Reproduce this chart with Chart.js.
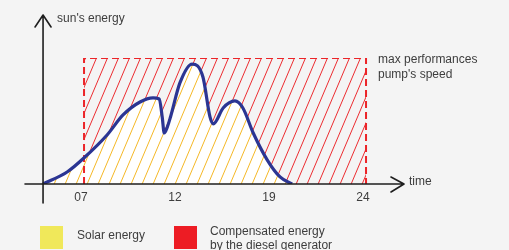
<!DOCTYPE html>
<html>
<head>
<meta charset="utf-8">
<script src="https://cdn.jsdelivr.net/npm/chart.js@4.4.1/dist/chart.umd.min.js"></script>
<style>
  html, body { margin: 0; padding: 0; background: #f4f4f4; }
  .wrap { position: relative; width: 509px; height: 250px; overflow: hidden; font-family: "Liberation Sans", Arial, sans-serif; color: #3d3d3d; }
  canvas { position: absolute; left: 0; top: 0; }
  .key { position: absolute; width: 23px; height: 23px; }
  .lbl { position: absolute; font-size: 12px; line-height: 14px; white-space: nowrap; }
</style>
</head>
<body>
<div class="wrap">
  <canvas id="chart"></canvas>
  <div class="key" style="left:40px; top:226px; background:#f0e85a;"></div>
  <div class="lbl" style="left:77px; top:228px;">Solar energy</div>
  <div class="key" style="left:174px; top:226px; background:#ed1c24;"></div>
  <div class="lbl" style="left:210px; top:224px;">Compensated energy<br>by the diesel generator</div>
</div>
<script>
// x positions are in "slot" units: tick labels sit at 1..4, evenly spaced like the original drawing
const tickLabels = ['07', '12', '19', '24'];
const tickPos = [1, 2, 3, 4];

// sun's energy curve
const sunX = [0.564, 0.82, 1.01, 1.245, 1.415, 1.596, 1.734, 1.80, 1.832, 1.853, 1.885, 1.92, 2.02, 2.15, 2.265, 2.34, 2.375, 2.48, 2.605, 2.69, 2.80, 2.95, 3.085, 3.213];
const sunY = [0, 9.5, 21.4, 38.9, 54.8, 65.1, 68.3, 67.5, 53, 40.5, 45, 53.2, 80.2, 95.2, 84.9, 53.2, 47.6, 60.3, 65.9, 60.3, 40.5, 19.0, 5.6, 0];

// max performance box (diesel generator compensation)
const maxX = [1, 1, 4, 4];
const maxY = [0, 100, 100, 0];

function hatch(color, bg) {
    const c = document.createElement('canvas');
    c.width = 11; c.height = 26;
    const g = c.getContext('2d');
    if (bg) { g.fillStyle = bg; g.fillRect(0, 0, 11, 26); }
    g.strokeStyle = color;
    g.lineWidth = 1;
    [-11, 0, 11].forEach(off => {
        g.beginPath();
        g.moveTo(off, 26);
        g.lineTo(off + 11, 0);
        g.stroke();
    });
    return g.createPattern(c, 'repeat');
}

const axesPlugin = {
    id: 'axesPlugin',
    afterDraw(chart) {
        const ctx = chart.ctx;
        const x = chart.scales.x, y = chart.scales.y;
        const ox = x.getPixelForValue(sunX[0]);
        const oy = y.getPixelForValue(0);
        ctx.save();
        ctx.strokeStyle = '#1e1e1e';
        ctx.lineWidth = 1.6;
        ctx.lineCap = 'round';
        ctx.lineJoin = 'round';
        // y axis
        ctx.beginPath();
        ctx.moveTo(ox, 203); ctx.lineTo(ox, 15);
        ctx.moveTo(ox - 8, 27); ctx.lineTo(ox, 15); ctx.lineTo(ox + 8, 27);
        ctx.stroke();
        // x axis
        const xr = chart.chartArea.right;
        ctx.beginPath();
        ctx.moveTo(chart.chartArea.left, oy); ctx.lineTo(xr, oy);
        ctx.moveTo(xr - 13, oy - 7); ctx.lineTo(xr, oy); ctx.lineTo(xr - 13, oy + 8);
        ctx.stroke();

        ctx.fillStyle = '#3d3d3d';
        ctx.font = '12px "Liberation Sans", Arial, sans-serif';
        ctx.textBaseline = 'middle';
        ctx.textAlign = 'center';
        tickPos.forEach((p, i) => ctx.fillText(tickLabels[i], x.getPixelForValue(p) - 3, oy + 14));
        ctx.textAlign = 'left';
        ctx.fillText("sun's energy", ox + 14, 19);
        ctx.fillText('time', xr + 5, oy - 2);
        ctx.fillText('max performances', x.getPixelForValue(4) + 12, y.getPixelForValue(100) + 2);
        ctx.fillText("pump's speed", x.getPixelForValue(4) + 12, y.getPixelForValue(100) + 17);
        ctx.restore();
    }
};

new Chart(document.getElementById('chart'), {
    type: 'line',
    data: {
        datasets: [{
            label: 'Solar energy',
            data: sunX.map((v, i) => ({ x: v, y: sunY[i] })),
            borderColor: '#2b3593',
            borderWidth: 3.2,
            pointRadius: 0,
            cubicInterpolationMode: 'monotone',
            fill: 'origin',
            backgroundColor: hatch('#f5b826', '#ffffff')
        }, {
            label: 'Compensated energy by the diesel generator',
            data: maxX.map((v, i) => ({ x: v, y: maxY[i] })),
            borderColor: '#ec2428',
            borderWidth: 2,
            borderDash: [7, 4],
            pointRadius: 0,
            tension: 0,
            fill: 'origin',
            backgroundColor: hatch('#ec2c30', null)
        }]
    },
    options: {
        responsive: true,
        maintainAspectRatio: false,
        animation: false,
        events: [],
        layout: { padding: { left: 25, right: 105, top: 58, bottom: 66 } },
        scales: {
            x: { type: 'linear', min: 0.372, max: 4.404, display: false },
            y: { type: 'linear', min: 0, max: 100, display: false }
        },
        plugins: {
            legend: { display: false },
            tooltip: { enabled: false },
            filler: { drawTime: 'beforeDatasetsDraw' }
        }
    },
    plugins: [axesPlugin]
});
</script>
</body>
</html>
